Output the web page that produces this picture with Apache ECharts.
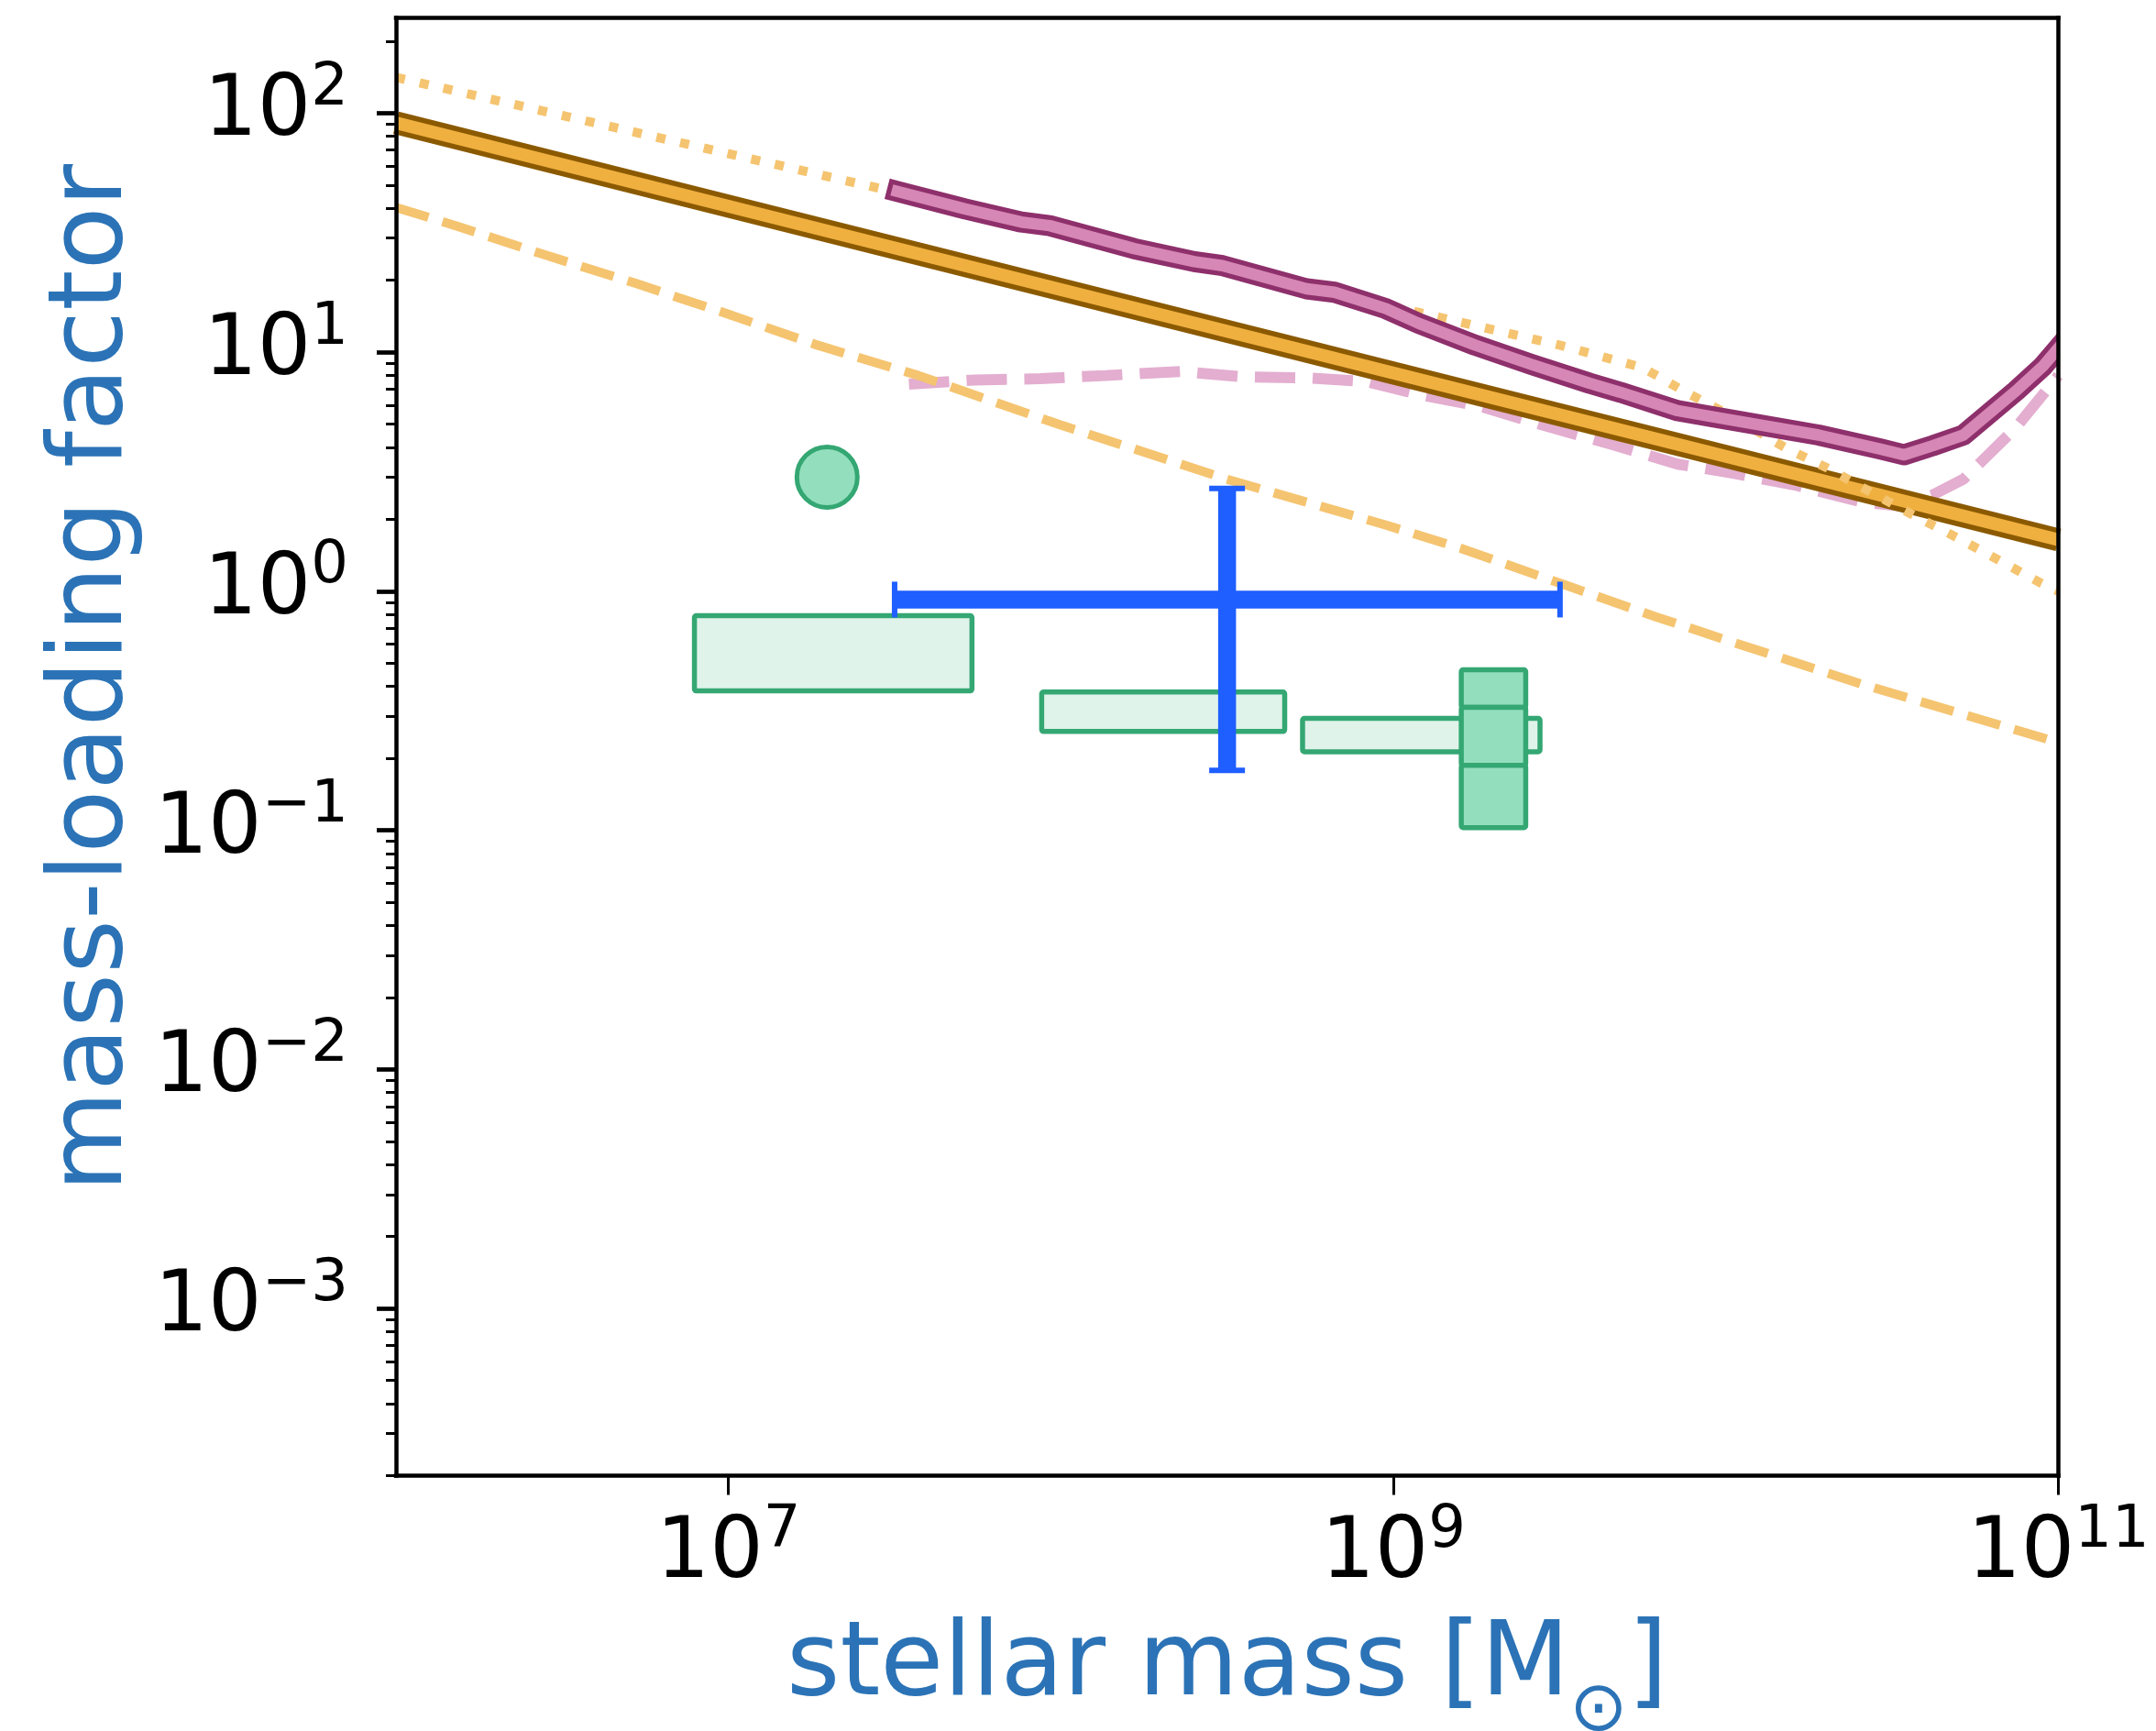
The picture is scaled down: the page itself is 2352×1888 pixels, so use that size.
<!DOCTYPE html>
<html><head><meta charset="utf-8">
<script src="https://cdn.jsdelivr.net/npm/echarts@6/dist/echarts.min.js"></script>
<style>html,body{margin:0;padding:0;background:#fff}#c{width:2352px;height:1888px}</style>
</head><body><div id="c"></div>
<script>
// ---- axis ranges and ticks (natural units / exponents) ----
const xRange = [1e6, 1e11];
const yRange = [2e-4, 250];
const xTickExps = [7, 9, 11];
const yTickExps = [-3, -2, -1, 0, 1, 2];

// ---- orange thick power-law band ----
const bandMass = [1e6, 1e11];
const bandEta  = [91, 1.64];

// ---- orange dotted curve ----
const dottedMass = [1e6, 3.16e6, 1e7, 3.16e7, 1e8, 3.16e8, 1e9, 3.16e9, 5.62e9, 7.59e9, 1e10, 1.53e10, 2.08e10, 2.76e10, 3.71e10, 4.98e10, 6.68e10, 8.87e10, 1e11];
const dottedEta  = [141, 97.7, 67.6, 46.8, 32.4, 22.4, 15.5, 10.7, 8.61, 6.79, 5.56, 3.94, 3.21, 2.57, 2.06, 1.67, 1.34, 1.08, 1.0];

// ---- orange dashed curve ----
const dashedMass = [1e6, 1.52e6, 2.81e6, 5.31e6, 1e7, 1.85e7, 3.73e7, 9.84e7, 3.16e8, 9.5e8, 1.6e9, 3.36e9, 6.18e9, 9.72e9, 2.57e10, 1e11];
const dashedEta  = [40.3, 33.7, 25.5, 19.3, 14.4, 10.7, 7.98, 4.99, 2.94, 1.89, 1.51, 1.05, 0.78, 0.634, 0.408, 0.233];

// ---- purple thick curve ----
const purpleMass = [3.22e7, 5.15e7, 7.6e7, 9.25e7, 1.66e8, 2.52e8, 3.06e8, 5.48e8, 6.65e8, 9.5e8, 1.19e9, 1.76e9, 2.62e9, 3.89e9, 4.82e9, 7.16e9, 9.14e9, 1.9e10, 2.9e10, 3.44e10, 4.19e10, 5.18e10, 7.46e10, 8.97e10, 1e11];
const purpleEta  = [47.0, 39.7, 35.0, 33.8, 27.1, 23.9, 23.0, 18.4, 17.8, 15.2, 13.2, 10.7, 8.85, 7.41, 6.79, 5.69, 5.36, 4.50, 3.94, 3.72, 4.06, 4.50, 6.89, 8.71, 10.4];

// ---- pink dashed curve ----
const pinkMass = [3.49e7, 5.5e7, 8.65e7, 1.36e8, 2.29e8, 3.6e8, 5.5e8, 8.36e8, 1.23e9, 1.82e9, 2.76e9, 4.54e9, 7.16e9, 1.06e10, 1.63e10, 2.57e10, 3.28e10, 4.19e10, 5.18e10, 7.46e10, 1e11];
const pinkEta  = [7.35, 7.64, 7.74, 7.98, 8.30, 7.87, 7.80, 7.52, 6.59, 5.94, 4.99, 4.11, 3.40, 3.11, 2.77, 2.36, 2.28, 2.53, 2.94, 4.84, 7.98];

// ---- green circle ----
const circleMass = [1.98e7];
const circleEta  = [3.0];

// ---- green boxes: [massLow, massHigh, etaLow, etaHigh] ----
const lightBoxes = [
  [7.9e6, 5.4e7, 0.383, 0.79],
  [8.75e7, 4.71e8, 0.259, 0.379],
  [5.33e8, 2.76e9, 0.213, 0.294]
];
const darkBoxes = [
  [1.6e9, 2.5e9, 0.327, 0.469],
  [1.6e9, 2.5e9, 0.187, 0.327],
  [1.6e9, 2.5e9, 0.1026, 0.187]
];

// ---- blue point with error bars ----
const blueMass = [3.16e8];
const blueEta = [0.923];
const blueMassRange = [[3.16e7, 3.17e9]];
const blueEtaRange = [[0.178, 2.69]];

// ================= build =================
const L = Math.log10;
const FONT = 'DejaVu Sans';
const yMin = L(yRange[0]), yMax = L(yRange[1]);
const xMin = L(xRange[0]), xMax = L(xRange[1]);

const yMinor = [];
for (let d = -4; d <= 2; d++) {
  for (let m = 2; m <= 9; m++) {
    const v = L(m * Math.pow(10, d));
    if (v >= yMin - 1e-9 && v <= yMax + 1e-9) yMinor.push(v);
  }
}

function fmtExp(v) {
  const e = Math.round(v);
  const s = e < 0 ? '\u2212' + (-e) : String(e);
  return '{b|10}{s|' + s + '}';
}
const richLab = {
  b: { fontSize: 92, lineHeight: 116, fontFamily: FONT, color: '#000' },
  s: { fontSize: 64, lineHeight: 20, padding: [0, 0, 52, 0], verticalAlign: 'bottom', fontFamily: FONT, color: '#000' }
};

const toXY = (mass, eta) => mass.map((m, i) => [L(m), L(eta[i])]);

function line(data, style, extra) {
  return Object.assign({
    type: 'line', data, showSymbol: false, symbol: 'none', silent: true, clip: true,
    xAxisIndex: 0, yAxisIndex: 0, lineStyle: style, z: 2
  }, extra || {});
}

const TITLE = '#2B73B6';
const spine = { color: '#000', width: 4.5, cap: 'square' };
const purpleXY = toXY(purpleMass, purpleEta);

const option = {
  animation: false,
  backgroundColor: '#fff',
  grid: { left: 432, right: 106.5, top: 19.5, bottom: 278.5, containLabel: false, outerBoundsMode: 'none' },
  xAxis: [
    {
      type: 'value', min: xMin, max: xMax, position: 'bottom', z: 10,
      axisLine: { show: true, onZero: false, lineStyle: spine },
      splitLine: { show: false },
      axisTick: { show: true, customValues: xTickExps, length: 21, lineStyle: { color: '#000', width: 3 } },
      axisLabel: { show: true, customValues: xTickExps, margin: 29, formatter: fmtExp, rich: richLab },
      name: '{t|stellar mass [M}{o|\u2299}{t|]}',
      nameLocation: 'middle', nameGap: 134, nameMoveOverlap: false,
      nameTextStyle: {
        color: TITLE, fontFamily: FONT,
        rich: {
          t: { fontSize: 112, lineHeight: 150, fontFamily: FONT, color: TITLE },
          o: { fontSize: 76, lineHeight: 10, padding: [86, 0, 0, 0], verticalAlign: 'top', fontFamily: FONT, color: TITLE }
        }
      }
    },
    {
      type: 'value', min: xMin, max: xMax, position: 'top', z: 10,
      axisLine: { show: true, onZero: false, lineStyle: spine },
      splitLine: { show: false }, axisTick: { show: false }, axisLabel: { show: false }
    }
  ],
  yAxis: [
    {
      type: 'value', min: yMin, max: yMax, position: 'left', z: 10,
      axisLine: { show: true, onZero: false, lineStyle: spine },
      splitLine: { show: false },
      axisTick: { show: true, customValues: yTickExps, length: 21, lineStyle: { color: '#000', width: 4.7 } },
      axisLabel: { show: true, customValues: yTickExps, margin: 52, formatter: fmtExp, rich: richLab },
      name: 'mass-loading factor',
      nameLocation: 'middle', nameGap: 273, nameMoveOverlap: false,
      nameTextStyle: { color: TITLE, fontFamily: FONT, fontSize: 113, lineHeight: 113, padding: [0, 0, 0, 150] }
    },
    {
      type: 'value', min: yMin, max: yMax, position: 'left', z: 10,
      axisLine: { show: false, onZero: false }, splitLine: { show: false }, axisLabel: { show: false },
      axisTick: { show: true, customValues: yMinor, length: 11, lineStyle: { color: '#000', width: 3 } }
    },
    {
      type: 'value', min: yMin, max: yMax, position: 'right', z: 10,
      axisLine: { show: true, onZero: false, lineStyle: spine },
      splitLine: { show: false }, axisTick: { show: false }, axisLabel: { show: false }
    }
  ],
  series: [
    line(toXY(pinkMass, pinkEta), { color: '#E3AED0', width: 12, type: [44, 19], cap: 'butt' }),
    line(toXY(dashedMass, dashedEta), { color: '#F5C470', width: 10, type: [37, 16], cap: 'butt' }),
    line(toXY(bandMass, bandEta), { color: '#8B5A00', width: 25, cap: 'butt' }),
    line(toXY(bandMass, bandEta), { color: '#F0B040', width: 14, cap: 'butt' }),
    line(toXY(dottedMass, dottedEta), { color: '#F5C470', width: 10, type: [10, 16.5], cap: 'butt' }),
    {
      type: 'custom', xAxisIndex: 0, yAxisIndex: 0, silent: true, z: 3, clip: true,
      encode: { x: 0, y: 1 },
      data: purpleXY,
      renderItem: (params, api) => {
        if (params.dataIndex !== 0) return null;
        const pts = purpleXY.map(p => api.coord(p));
        return {
          type: 'group',
          children: [
            { type: 'polyline', shape: { points: pts }, style: { fill: null, stroke: '#8E306B', lineWidth: 23, lineCap: 'square', lineJoin: 'round' } },
            { type: 'polyline', shape: { points: pts }, style: { fill: null, stroke: '#D687B5', lineWidth: 12.5, lineCap: 'square', lineJoin: 'round' } }
          ]
        };
      }
    },
    {
      type: 'scatter', xAxisIndex: 0, yAxisIndex: 0, silent: true, z: 4,
      data: toXY(circleMass, circleEta), symbol: 'circle', symbolSize: 66,
      itemStyle: { color: '#93DFBD', borderColor: '#34A773', borderWidth: 5, opacity: 1 }
    },
    ...[[lightBoxes, '#DFF3EA'], [darkBoxes, '#93DFBD']].map(([boxes, fill]) => ({
      type: 'custom', xAxisIndex: 0, yAxisIndex: 0, silent: true, z: 4,
      encode: { x: [0, 1], y: [2, 3] },
      data: boxes.map(b => [L(b[0]), L(b[1]), L(b[2]), L(b[3])]),
      renderItem: (params, api) => {
        const p0 = api.coord([api.value(0), api.value(2)]);
        const p1 = api.coord([api.value(1), api.value(3)]);
        return {
          type: 'rect',
          shape: { x: p0[0], y: p1[1], width: p1[0] - p0[0], height: p0[1] - p1[1], r: 2 },
          style: { fill: fill, stroke: '#34A773', lineWidth: 5.5 }
        };
      }
    })),
    {
      type: 'custom', xAxisIndex: 0, yAxisIndex: 0, silent: true, z: 5,
      encode: { x: [0, 2, 3], y: [1, 4, 5] },
      data: blueMass.map((m, i) => [L(m), L(blueEta[i]), L(blueMassRange[i][0]), L(blueMassRange[i][1]), L(blueEtaRange[i][0]), L(blueEtaRange[i][1])]),
      renderItem: (params, api) => {
        const c = api.coord([api.value(0), api.value(1)]);
        const xl = api.coord([api.value(2), api.value(1)]);
        const xh = api.coord([api.value(3), api.value(1)]);
        const yl = api.coord([api.value(0), api.value(4)]);
        const yh = api.coord([api.value(0), api.value(5)]);
        const col = '#1F5EFF';
        const bar = { stroke: col, lineWidth: 19.5, lineCap: 'butt' };
        const cap = { stroke: col, lineWidth: 6, lineCap: 'butt' };
        const h = 19.5;
        return {
          type: 'group',
          children: [
            { type: 'line', shape: { x1: xl[0], y1: c[1], x2: xh[0], y2: c[1] }, style: bar },
            { type: 'line', shape: { x1: c[0], y1: yl[1], x2: c[0], y2: yh[1] }, style: bar },
            { type: 'line', shape: { x1: xl[0], y1: c[1] - h, x2: xl[0], y2: c[1] + h }, style: cap },
            { type: 'line', shape: { x1: xh[0], y1: c[1] - h, x2: xh[0], y2: c[1] + h }, style: cap },
            { type: 'line', shape: { x1: c[0] - h, y1: yl[1], x2: c[0] + h, y2: yl[1] }, style: cap },
            { type: 'line', shape: { x1: c[0] - h, y1: yh[1], x2: c[0] + h, y2: yh[1] }, style: cap }
          ]
        };
      }
    }
  ]
};

const chart = echarts.init(document.getElementById('c'), null, { renderer: 'canvas', width: 2352, height: 1888 });
chart.setOption(option);
</script>
</body></html>
